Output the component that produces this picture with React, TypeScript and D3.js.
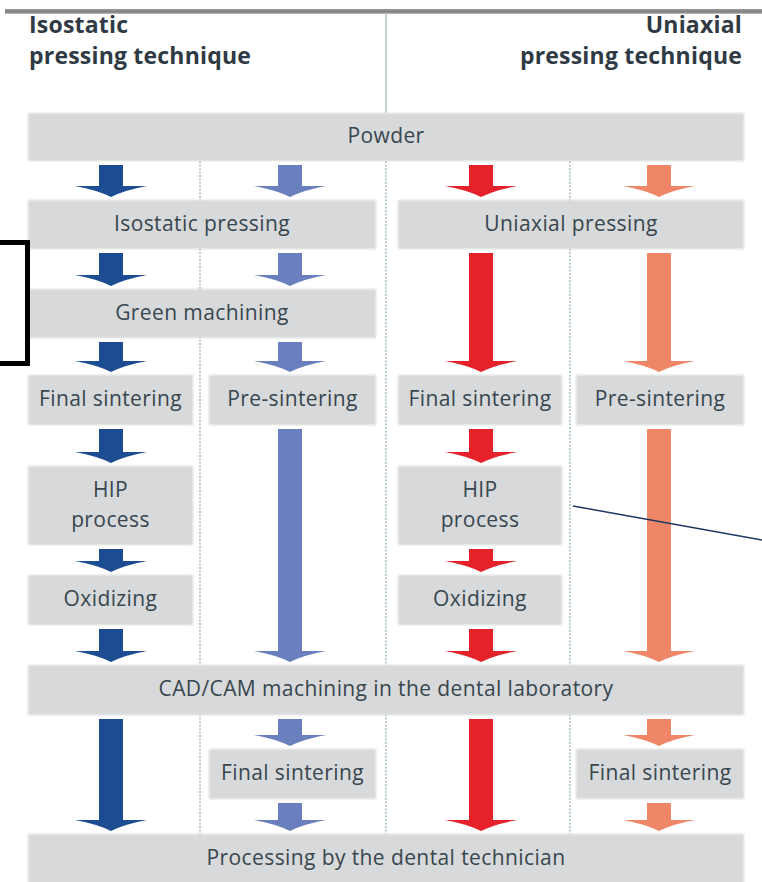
import React from "react";
import * as d3 from "d3";

// ---- data ----
const lanes = ["iso-final", "iso-pre", "uni-final", "uni-pre"];
const laneColors = ["#1c4d92", "#6a7fbe", "#e5222a", "#ee8667"];
const headers = [
  { lines: ["Isostatic", "pressing technique"], side: "left" },
  { lines: ["Uniaxial", "pressing technique"], side: "right" },
];
// steps: label lines, row, first lane, last lane
const stepLabels = [
  ["Powder"],
  ["Isostatic pressing"],
  ["Uniaxial pressing"],
  ["Green machining"],
  ["Final sintering"],
  ["Pre-sintering"],
  ["Final sintering"],
  ["Pre-sintering"],
  ["HIP", "process"],
  ["HIP", "process"],
  ["Oxidizing"],
  ["Oxidizing"],
  ["CAD/CAM machining in the dental laboratory"],
  ["Final sintering"],
  ["Final sintering"],
  ["Processing by the dental technician"],
];
const stepRows = [0, 1, 1, 2, 3, 3, 3, 3, 4, 4, 5, 5, 6, 7, 7, 8];
const stepFrom = [0, 0, 2, 0, 0, 1, 2, 3, 0, 2, 0, 2, 0, 1, 3, 0];
const stepTo = [3, 1, 3, 1, 0, 1, 2, 3, 0, 2, 0, 2, 3, 1, 3, 3];
// rows each lane passes through (arrows connect consecutive ones)
const laneRows = [
  [0, 1, 2, 3, 4, 5, 6, 8],
  [0, 1, 2, 3, 6, 7, 8],
  [0, 1, 3, 4, 5, 6, 8],
  [0, 1, 3, 6, 7, 8],
];

// ---- layout ----
const W = 762;
const H = 882;
const rowTop = [113, 200, 289, 375, 466, 575, 665, 749, 834];
const rowBottom = [161, 249, 338, 425, 545, 625, 715, 799, 884];
const laneCenter = d3.scaleOrdinal<string, number>().domain(lanes).range([111, 290, 481, 659]);
const laneLeft = d3.scaleOrdinal<string, number>().domain(lanes).range([28, 209, 398, 576]);
const laneRight = d3.scaleOrdinal<string, number>().domain(lanes).range([193, 376, 562, 744]);
const color = d3.scaleOrdinal<string, string>().domain(lanes).range(laneColors);
const dividers = [200, 386, 570];

function arrowPath(cx: number, y0: number, y1: number) {
  const p = d3.path();
  const sw = 12;
  const hw = 36;
  const hh = 11;
  const yh = y1 - hh;
  p.moveTo(cx - sw, y0);
  p.lineTo(cx + sw, y0);
  p.lineTo(cx + sw, yh);
  p.lineTo(cx + hw, yh);
  p.quadraticCurveTo(cx + 14, yh + 4, cx, y1);
  p.quadraticCurveTo(cx - 14, yh + 4, cx - hw, yh);
  p.lineTo(cx - sw, yh);
  p.closePath();
  return p.toString();
}

export default function App() {
  const font = "'Open Sans', 'DejaVu Sans', sans-serif";
  const textColor = "#38464f";
  const arrows: { lane: string; y0: number; y1: number }[] = [];
  laneRows.forEach((rows, li) => {
    for (let i = 0; i < rows.length - 1; i++) {
      arrows.push({ lane: lanes[li], y0: rowBottom[rows[i]] + 4, y1: rowTop[rows[i + 1]] - 3 });
    }
  });
  return (
    <svg width={W} height={H} style={{ position: "absolute", left: 0, top: 0, background: "#fff" }}>
      <defs>
        <filter id="soft" x="-5%" y="-10%" width="110%" height="120%">
          <feGaussianBlur stdDeviation="0.9" />
        </filter>
        <linearGradient id="bar" x1="0" y1="0" x2="0" y2="1">
          <stop offset="0" stopColor="#9a9a9a" />
          <stop offset="0.6" stopColor="#7d7d7d" />
          <stop offset="1" stopColor="#c8c8c8" />
        </linearGradient>
      </defs>
      <rect x={0} y={0} width={W} height={H} fill="#ffffff" />
      {/* top bar */}
      <rect x={5} y={9} width={W - 5} height={5} fill="url(#bar)" />
      {/* center solid divider in header */}
      <line x1={386} x2={386} y1={14} y2={113} stroke="#6f8792" strokeWidth={0.8} />
      {/* dashed lane dividers */}
      {dividers.map((x) => (
        <line key={x} x1={x} x2={x} y1={161} y2={834} stroke="#7a98a4" strokeWidth={1} strokeDasharray="2,1.5" />
      ))}
      {/* headers */}
      {headers.map((h, i) =>
        h.lines.map((t, j) => (
          <text
            key={`${i}-${j}`}
            x={h.side === "left" ? 29 : 742}
            y={33 + j * 31}
            textAnchor={h.side === "left" ? "start" : "end"}
            fontFamily={font}
            fontWeight={700}
            fontSize={23}
            letterSpacing={0.2}
            fill="#2f3a44"
          >
            {t}
          </text>
        ))
      )}
      {/* boxes */}
      {stepLabels.map((lines, i) => {
        const r = stepRows[i];
        const x0 = laneLeft(lanes[stepFrom[i]]);
        const x1 = laneRight(lanes[stepTo[i]]);
        const y0 = rowTop[r];
        const y1 = rowBottom[r];
        const cx = (x0 + x1) / 2;
        const cy = (y0 + y1) / 2;
        return (
          <g key={i}>
            <rect x={x0} y={y0} width={x1 - x0} height={y1 - y0} fill="#d7d9da" filter="url(#soft)" />
            {lines.map((t, j) => (
              <text
                key={j}
                x={cx}
                y={cy + (j - (lines.length - 1) / 2) * 30 - 2}
                textAnchor="middle"
                dominantBaseline="central"
                fontFamily={font}
                fontSize={21}
                letterSpacing={0.4}
                fill={textColor}
              >
                {t}
              </text>
            ))}
          </g>
        );
      })}
      {/* arrows */}
      {arrows.map((a, i) => (
        <path key={i} d={arrowPath(laneCenter(a.lane), a.y0, a.y1)} fill={color(a.lane)} />
      ))}
      {/* annotation line */}
      <line x1={573} y1={506} x2={762} y2={540} stroke="#1d3764" strokeWidth={1.5} />
      {/* black bracket */}
      <path d="M0,242.5 L27.5,242.5 L27.5,363.5 L0,363.5" fill="none" stroke="#000" strokeWidth={5} />
    </svg>
  );
}
